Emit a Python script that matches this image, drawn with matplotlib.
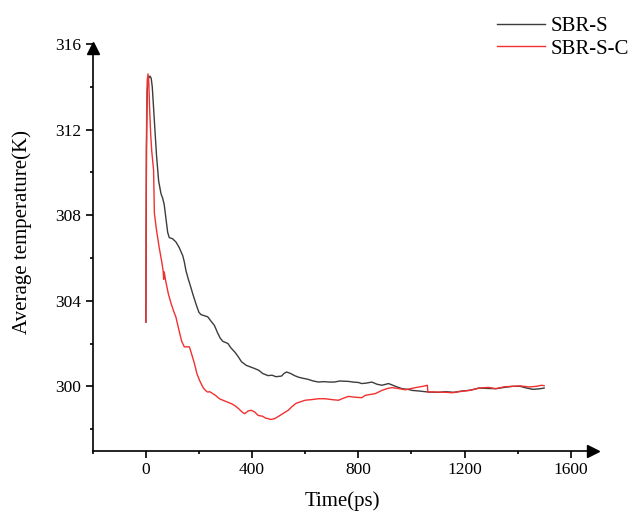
import numpy as np
import matplotlib
matplotlib.use("Agg")
import matplotlib.pyplot as plt
from matplotlib.ticker import MultipleLocator

# SBR-S (time in ps, average temperature in K)
sbr_s_time = [0, 2, 5, 10, 15, 20, 24, 28, 34, 40, 48, 57, 63, 69, 76, 82, 88, 100, 113, 125,
              139, 145, 151, 160, 170, 177, 190, 200, 208, 220, 233, 245, 258, 270, 280, 290,
              300, 309, 320, 335, 347, 360, 378, 395, 410, 425, 440, 460, 475, 490, 511, 520,
              530, 545, 560, 574, 590, 610, 630, 650, 670, 690, 710, 730, 763, 780, 800, 813,
              830, 851, 870, 889, 914, 940, 965, 990, 1003, 1030, 1066, 1100, 1130, 1160, 1190,
              1217, 1255, 1290, 1318, 1350, 1381, 1410, 1430, 1457, 1480, 1500]
sbr_s_temp = [303.0, 311.0, 313.8, 314.4, 314.5, 314.4, 314.0, 313.2, 312.0, 310.8, 309.6, 309.0,
              308.8, 308.5, 307.8, 307.2, 306.95, 306.9, 306.75, 306.5, 306.1, 305.8, 305.4,
              305.0, 304.6, 304.3, 303.8, 303.45, 303.35, 303.3, 303.25, 303.05, 302.85, 302.5,
              302.25, 302.1, 302.05, 302.0, 301.8, 301.6, 301.4, 301.15, 300.98, 300.9, 300.83,
              300.75, 300.6, 300.5, 300.52, 300.45, 300.48, 300.6, 300.67, 300.6, 300.5, 300.43,
              300.38, 300.33, 300.25, 300.2, 300.22, 300.2, 300.2, 300.25, 300.23, 300.2, 300.18,
              300.13, 300.15, 300.2, 300.1, 300.05, 300.13, 300.0, 299.89, 299.85, 299.81, 299.78,
              299.73, 299.72, 299.75, 299.72, 299.78, 299.81, 299.92, 299.9, 299.89, 299.95,
              300.0, 300.0, 299.93, 299.86, 299.88, 299.92]

# SBR-S-C
sbr_sc_time = [0, 1, 3, 5, 8, 11, 14, 18, 22, 29, 32, 40, 50, 60, 65, 67, 69, 75, 85, 95, 105,
               113, 125, 135, 145, 155, 164, 170, 183, 192, 202, 215, 225, 233, 240, 252, 265,
               277, 290, 300, 322, 335, 350, 362, 372, 385, 397, 410, 423, 440, 450, 460, 470,
               485, 500, 515, 536, 550, 565, 580, 600, 624, 650, 675, 700, 725, 745, 763, 780,
               800, 813, 826, 845, 864, 889, 910, 927, 950, 977, 1000, 1020, 1043, 1060, 1062,
               1080, 1100, 1130, 1154, 1180, 1217, 1235, 1255, 1290, 1318, 1350, 1381, 1410,
               1444, 1470, 1490, 1500]
sbr_sc_temp = [303.0, 308.0, 313.0, 314.3, 314.6, 314.2, 313.0, 311.8, 311.0, 310.1, 308.1, 307.3,
               306.5, 305.8, 305.4, 305.0, 305.35, 304.9, 304.3, 303.87, 303.5, 303.24, 302.6,
               302.1, 301.84, 301.85, 301.84, 301.6, 301.06, 300.6, 300.28, 299.95, 299.8,
               299.73, 299.75, 299.66, 299.55, 299.42, 299.35, 299.3, 299.19, 299.1, 298.95,
               298.8, 298.72, 298.85, 298.88, 298.8, 298.64, 298.6, 298.52, 298.49, 298.45,
               298.49, 298.6, 298.72, 298.88, 299.05, 299.2, 299.27, 299.35, 299.38, 299.42,
               299.42, 299.38, 299.35, 299.45, 299.53, 299.5, 299.48, 299.47, 299.58, 299.62,
               299.66, 299.81, 299.9, 299.94, 299.9, 299.84, 299.9, 299.95, 300.0, 300.05,
               299.73, 299.74, 299.73, 299.72, 299.7, 299.75, 299.81, 299.85, 299.92, 299.95,
               299.89, 299.98, 300.0, 300.02, 299.97, 300.0, 300.05, 300.03]

plt.rcParams['font.family'] = ['Liberation Serif', 'DejaVu Serif']

fig = plt.figure(figsize=(6.32, 5.15), dpi=100)
ax = fig.add_axes([0.1468, 0.1252, 0.7907, 0.7894])

ax.plot(sbr_s_time, sbr_s_temp, color='#3c3c3c', lw=1.0, label='SBR-S')
ax.plot(sbr_sc_time, sbr_sc_temp, color='#f23030', lw=1.0, label='SBR-S-C')

ax.set_xlim(-200, 1682)
ax.set_ylim(297, 316)
ax.xaxis.set_minor_locator(MultipleLocator(200))
ax.yaxis.set_major_locator(MultipleLocator(4))
ax.yaxis.set_minor_locator(MultipleLocator(2))
ax.set_xticks([0, 400, 800, 1200, 1600])

for side in ('top', 'right'):
    ax.spines[side].set_visible(False)
for side in ('left', 'bottom'):
    ax.spines[side].set_linewidth(1.2)

ax.tick_params(which='major', direction='out', length=5, width=1.2, labelsize=12.5, pad=3.5)
ax.tick_params(which='minor', direction='out', length=2.4, width=1.2)

# arrow heads on the axes
ax.plot(1, 0, '>', color='k', ms=9, transform=ax.transAxes, clip_on=False)
ax.plot(0, 0.989, '^', color='k', ms=9, transform=ax.transAxes, clip_on=False)

ax.set_xlabel('Time(ps)', fontsize=15)
ax.set_ylabel('Average temperature(K)', fontsize=15)
ax.xaxis.set_label_coords(0.5, -0.099)
ax.yaxis.set_label_coords(-0.122, 0.5375)

fig.legend(loc='upper left', bbox_to_anchor=(0.786, 0.968), frameon=False, fontsize=15,
           handlelength=2.3, handletextpad=0.3, labelspacing=0.15, borderpad=0, borderaxespad=0)

fig.savefig('out.png', dpi=100)
